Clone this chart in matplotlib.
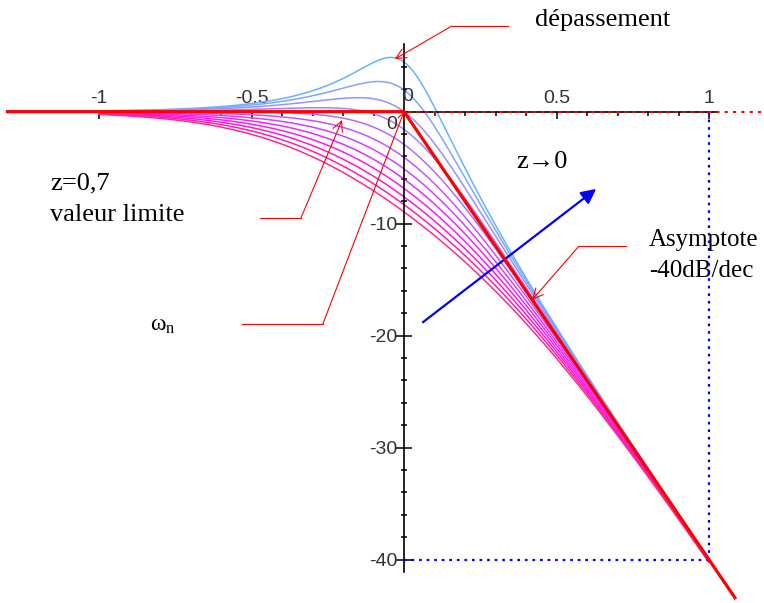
import numpy as np
import matplotlib.pyplot as plt
from matplotlib.ticker import FixedLocator

plt.rcParams['mathtext.fontset'] = 'custom'
plt.rcParams['mathtext.rm'] = 'Liberation Serif'
plt.rcParams['mathtext.it'] = 'Liberation Serif'

# damping ratios of the plotted curves (light blue -> pink)
z_values = [0.3, 0.4, 0.5, 0.6, 0.7, 0.8, 0.9, 1.0, 1.1, 1.2, 1.3, 1.4]
z_colors = ['#66B3FF', '#7FA6FF', '#9494FF', '#A680FF', '#B36BFF', '#C455FF',
            '#D63FFF', '#E82AFF', '#FF1AF0', '#FF1ACC', '#FF1FA8', '#FF2A8C']
x_ticks = [-1, -0.5, 0.5, 1]
x_ticklabels = ['-1', '-0.5', '0.5', '1']
x_minor = [-1.0, -0.9, -0.8, -0.7, -0.6, -0.5, -0.4, -0.3, -0.2, -0.1, 0.0,
           0.1, 0.2, 0.3, 0.4, 0.5, 0.6, 0.7, 0.8, 0.9, 1.0]
y_ticks = [-40, -30, -20, -10]
y_ticklabels = ['-40', '-30', '-20', '-10']
y_minor = [-38, -36, -34, -32, -28, -26, -24, -22, -18, -16, -14, -12,
           -8, -6, -4, -2, 2, 4]
asym_x = [-1.3, 0, 1.085]
asym_y = [0, 0, -43.4]

# log10(w/wn) grid, gain of 1/(1 + 2z jw/wn - (w/wn)^2) in dB
logw = np.linspace(-1, 1, 160)
u = 10 ** logw

fig = plt.figure(figsize=(7.64, 6.03), dpi=100)
ax = fig.add_axes([0, 0, 1, 1])

for z, c in zip(z_values, z_colors):
    gain = -10 * np.log10((1 - u ** 2) ** 2 + (2 * z * u) ** 2)
    ax.plot(logw, gain, color=c, lw=1.1)

ax.plot(asym_x, asym_y, color='red', lw=2.3, solid_joinstyle='miter', zorder=5)
ax.plot([-1.3, 1.2], [0, 0], color='red', lw=1.5, ls=(0, (1.5, 2.5)), zorder=6)
ax.plot([1, 1], [0, -40], color='blue', lw=1.6, ls=(0, (1.2, 2.2)), zorder=4)
ax.plot([0, 1], [-40, -40], color='blue', lw=1.6, ls=(0, (1.2, 2.2)), zorder=4)

ax.set_xlim(-1.3246, 1.1803)
ax.set_ylim(-43.87, 9.97)

for s in ['right', 'bottom']:
    ax.spines[s].set_visible(False)
ax.spines['top'].set_position(('data', 0))
ax.spines['left'].set_position(('data', 0))
ax.spines['top'].set_bounds(-1.036, 1.03)
ax.spines['left'].set_bounds(-41.1, 6)
ax.spines['top'].set_linewidth(1.2)
ax.spines['left'].set_linewidth(1.2)

ax.xaxis.tick_top()
ax.set_xticks(x_ticks)
ax.set_xticklabels(x_ticklabels)
ax.xaxis.set_minor_locator(FixedLocator(x_minor))
ax.set_yticks(y_ticks)
ax.set_yticklabels(y_ticklabels)
ax.yaxis.set_minor_locator(FixedLocator(y_minor))
ax.tick_params(axis='x', which='major', direction='in', length=5, width=1.1,
               pad=3, labelsize=14, labelcolor='#333333')
ax.tick_params(axis='x', which='minor', direction='in', length=3, width=1.1)
ax.tick_params(axis='y', which='major', direction='inout', length=11, width=1.1,
               pad=-1, labelsize=14, labelcolor='#333333')
ax.tick_params(axis='y', which='minor', direction='inout', length=5, width=1.1)
for lab in ax.get_xticklabels() + ax.get_yticklabels():
    lab.set_fontfamily('Liberation Sans')

# the two "0" labels sit beside the origin
ax.annotate('0', xy=(0, 0), xytext=(3, 11), textcoords='offset points',
            ha='center', va='center', fontsize=14, color='#333333',
            family='Liberation Sans')
ax.annotate('0', xy=(0, 0), xytext=(-9, -9.5), textcoords='offset points',
            ha='center', va='center', fontsize=14, color='#333333',
            family='Liberation Sans')

serif = ['Liberation Serif', 'DejaVu Serif']
tsize = 19

ax.text(0.43, 8.2, 'dépassement', fontsize=tsize, family=serif, va='center')
ax.plot([0.341, 0.157], [7.65, 7.65], color='red', lw=0.8)
ax.annotate('', xy=(-0.03, 4.7), xytext=(0.157, 7.65),
            arrowprops=dict(arrowstyle='->', color='red', lw=0.8,
                            mutation_scale=18, shrinkA=0, shrinkB=0))

ax.text(0.803, -11.45, 'Asymptote', fontsize=18, family=serif, va='center')
ax.text(0.803, -14.2, '-40dB/dec', fontsize=18, family=serif, va='center')
ax.plot([0.728, 0.574], [-12.0, -12.0], color='red', lw=0.8)
ax.annotate('', xy=(0.42, -16.8), xytext=(0.574, -12.0),
            arrowprops=dict(arrowstyle='->', color='red', lw=0.8,
                            mutation_scale=18, shrinkA=0, shrinkB=0))

ax.text(-1.16, -6.37, 'z=0,7', fontsize=tsize, family=serif, va='center')
ax.text(-1.16, -9.2, 'valeur limite', fontsize=tsize, family=serif, va='center')
ax.plot([-0.472, -0.338], [-9.5, -9.5], color='red', lw=0.8)
ax.annotate('', xy=(-0.203, -0.74), xytext=(-0.338, -9.5),
            arrowprops=dict(arrowstyle='->', color='red', lw=0.8,
                            mutation_scale=18, shrinkA=0, shrinkB=0))

ax.text(-0.833, -19.0, r'$\omega_\mathrm{n}$', fontsize=17, va='center')
ax.plot([-0.531, -0.266], [-18.96, -18.96], color='red', lw=0.8)
ax.annotate('', xy=(0, 0), xytext=(-0.266, -18.96),
            arrowprops=dict(arrowstyle='->', color='red', lw=0.8,
                            mutation_scale=12, shrinkA=0, shrinkB=0))

ax.text(0.367, -4.5, 'z→0', fontsize=tsize, family=serif, va='center')
ax.annotate('', xy=(0.63, -6.9), xytext=(0.062, -18.8),
            arrowprops=dict(arrowstyle='-|>', color='blue', lw=1.6,
                            mutation_scale=22, shrinkA=0, shrinkB=0))

fig.savefig('out.png', dpi=100)
